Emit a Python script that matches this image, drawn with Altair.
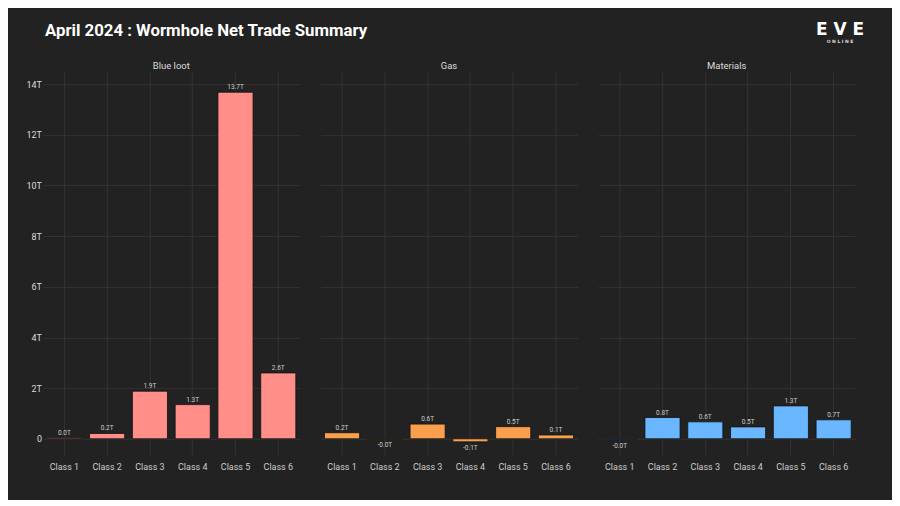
import altair as alt
import pandas as pd

classes = ["Class 1", "Class 2", "Class 3", "Class 4", "Class 5", "Class 6"]
panels = ["Blue loot", "Gas", "Materials"]
blue_loot = [0.04, 0.21, 1.88, 1.35, 13.68, 2.60]
gas = [0.24, -0.02, 0.58, -0.12, 0.48, 0.15]
materials = [-0.03, 0.84, 0.67, 0.47, 1.30, 0.75]
blue_loot_labels = ["0.0T", "0.2T", "1.9T", "1.3T", "13.7T", "2.6T"]
gas_labels = ["0.2T", "-0.0T", "0.6T", "-0.1T", "0.5T", "0.1T"]
materials_labels = ["-0.0T", "0.8T", "0.6T", "0.5T", "1.3T", "0.7T"]
colors = ["#FF8F88", "#F9A04F", "#6AB6FF"]
y_ticks = [0, 2, 4, 6, 8, 10, 12, 14]
title_text = "April 2024 : Wormhole Net Trade Summary"
logo_top = "E V E"
logo_bottom = "O N L I N E"

FONT = "Roboto"
W, H = 257, 383
ydomain = [-0.63, 14.47]

series = [blue_loot, gas, materials]
labels = [blue_loot_labels, gas_labels, materials_labels]


def panel(i):
    df = pd.DataFrame({"cls": classes, "v": series[i], "lab": labels[i]})
    first = i == 0
    x = alt.X("cls:N", sort=classes, title=None,
              scale=alt.Scale(paddingInner=0.18, paddingOuter=0.09),
              axis=alt.Axis(labelAngle=0, ticks=False, domain=False, grid=True,
                            gridColor="#333333", labelColor="#cccccc",
                            labelFontSize=9, labelFont=FONT, labelPadding=8))
    yaxis = alt.Axis(values=y_ticks, ticks=False, domain=False, grid=True,
                     gridColor="#333333", labelColor="#dddddd", labelFontSize=9,
                     labelFont=FONT, labelPadding=1.5, minExtent=30, maxExtent=30,
                     labelExpr="datum.value == 0 ? '0' : datum.value + 'T'") if first else \
        alt.Axis(values=y_ticks, ticks=False, domain=False, grid=True, labels=False,
                 gridColor="#333333", minExtent=0, maxExtent=0)
    y = alt.Y("v:Q", title=None, scale=alt.Scale(domain=ydomain, nice=False, zero=False),
              axis=yaxis)
    base = alt.Chart(df)
    bars = base.mark_bar(color=colors[i], stroke="#111111", strokeWidth=1,
                         strokeOpacity=0.8).encode(x=x, y=y, y2=alt.datum(0))
    pos = base.transform_filter("datum.v >= 0").mark_text(
        baseline="bottom", dy=-2, fontSize=6.5, color="#cccccc", font=FONT).encode(
        x=alt.X("cls:N", sort=classes), y="v:Q", text="lab:N")
    neg = base.transform_filter("datum.v < 0").mark_text(
        baseline="top", dy=3, fontSize=6.5, color="#cccccc", font=FONT).encode(
        x=alt.X("cls:N", sort=classes), y="v:Q", text="lab:N")
    name = alt.Chart(pd.DataFrame({"t": [panels[i]]})).mark_text(
        fontSize=9.5, color="#dddddd", font=FONT, baseline="middle").encode(
        text="t:N", x=alt.value(W / 2), y=alt.value(-6))
    layers = [bars, pos, neg, name]
    if first:
        layers.append(alt.Chart(pd.DataFrame({"t": [title_text]})).mark_text(
            fontSize=16.8, fontWeight="bold", color="#ffffff", font=FONT,
            align="left", baseline="middle").encode(
            text="t:N", x=alt.value(2), y=alt.value(-41)))
    if i == 2:
        layers.append(alt.Chart(pd.DataFrame({"t": [logo_top]})).mark_text(
            fontSize=17, fontWeight="bold", color="#ffffff", font="DejaVu Sans",
            baseline="middle").encode(text="t:N", x=alt.value(242), y=alt.value(-42)))
        layers.append(alt.Chart(pd.DataFrame({"t": [logo_bottom]})).mark_text(
            fontSize=4.5, fontWeight="bold", color="#dddddd", font="DejaVu Sans",
            baseline="middle").encode(text="t:N", x=alt.value(242), y=alt.value(-30)))
    return alt.layer(*layers).properties(width=W, height=H)


chart = alt.hconcat(panel(0), panel(1), panel(2), spacing=21, bounds="flush").properties(
    background="#222222",
    padding={"left": 5, "top": 13, "right": 27, "bottom": 28},
).configure_view(stroke=None)

chart.save("out.html", embed_options={"renderer": "svg", "actions": False})
